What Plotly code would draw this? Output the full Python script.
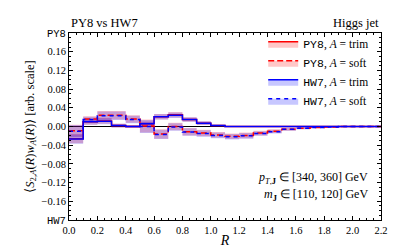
import plotly.graph_objects as go

# ---- data ----
R_edges = [round(0.1 * i, 1) for i in range(23)]  # 0.0 .. 2.2

hw7_trim = [-0.027, 0.010, 0.011, 0.002, 0.000, 0.006, 0.021, 0.024, 0.015, 0.007, 0.002,
            0.000, 0.000, 0.000, 0.000, 0.000, 0.000, 0.000, 0.000, 0.000, 0.000, 0.000]
hw7_soft = [-0.010, 0.015, 0.023, 0.023, 0.015, 0.000, -0.017, -0.001, -0.012, -0.015, -0.019,
            -0.022, -0.020, -0.015, -0.011, -0.006, -0.004, -0.002, -0.001, 0.000, 0.000, 0.000]
py8_trim = [-0.026, 0.010, 0.012, 0.002, 0.000, 0.006, 0.021, 0.025, 0.015, 0.007, 0.002,
            0.000, 0.000, 0.000, 0.000, 0.000, 0.000, 0.000, 0.000, 0.000, 0.000, 0.000]
py8_soft = [-0.009, 0.016, 0.024, 0.024, 0.016, 0.001, -0.016, 0.000, -0.011, -0.014, -0.018,
            -0.021, -0.019, -0.014, -0.010, -0.006, -0.004, -0.002, -0.001, 0.000, 0.000, 0.000]

err_trim = [0.010, 0.006, 0.006, 0.004, 0.003, 0.004, 0.006, 0.006, 0.005, 0.004, 0.002,
            0.001, 0.001, 0.001, 0.001, 0.001, 0.0005, 0.0005, 0.0005, 0.0005, 0.0005, 0.0005]
err_soft = [0.013, 0.006, 0.009, 0.009, 0.008, 0.014, 0.010, 0.008, 0.008, 0.007, 0.006,
            0.006, 0.006, 0.005, 0.004, 0.003, 0.002, 0.001, 0.001, 0.001, 0.0005, 0.0005]

MONO = "font-family:Liberation Mono"
y_tickvals = [-0.2, -0.16, -0.12, -0.08, -0.04, 0.0, 0.04, 0.08, 0.12, 0.16, 0.2]
y_ticktext = ['<span style="%s">HW7</span>' % MONO, '\u22120.16', '\u22120.12',
              '\u22120.08', '\u22120.04', '0.00', '0.04', '0.08', '0.12', '0.16',
              '<span style="%s">PY8</span>' % MONO]

RED = 'rgb(255,0,0)'
BLUE = 'rgb(0,0,255)'
RED_BAND = 'rgba(255,0,0,0.22)'
BLUE_BAND = 'rgba(0,0,255,0.22)'

series = [
    ('<span style="%s">PY8</span>, <i>A</i> = trim' % MONO, py8_trim, err_trim, RED, RED_BAND, 'solid'),
    ('<span style="%s">PY8</span>, <i>A</i> = soft' % MONO, py8_soft, err_soft, RED, RED_BAND, '6px,3px'),
    ('<span style="%s">HW7</span>, <i>A</i> = trim' % MONO, hw7_trim, err_trim, BLUE, BLUE_BAND, 'solid'),
    ('<span style="%s">HW7</span>, <i>A</i> = soft' % MONO, hw7_soft, err_soft, BLUE, BLUE_BAND, '4px,4px'),
]

fig = go.Figure()

def ext(v):
    return list(v) + [v[-1]]

# bands
for name, vals, err, col, band, dash in series:
    lo = [v - e for v, e in zip(vals, err)]
    hi = [v + e for v, e in zip(vals, err)]
    fig.add_trace(go.Scatter(x=R_edges, y=ext(lo), mode='lines', line=dict(width=0, shape='hv'),
                             showlegend=False, hoverinfo='skip'))
    fig.add_trace(go.Scatter(x=R_edges, y=ext(hi), mode='lines', line=dict(width=0, shape='hv'),
                             fill='tonexty', fillcolor=band, showlegend=False, hoverinfo='skip'))

# lines
for name, vals, err, col, band, dash in series:
    fig.add_trace(go.Scatter(x=R_edges, y=ext(vals), mode='lines',
                             line=dict(color=col, width=1.5, dash=dash, shape='hv'),
                             showlegend=False))

# legend entries (patch + line)
for name, vals, err, col, band, dash in series:
    fig.add_trace(go.Scatter(x=[None, None], y=[None, None], mode='lines', name=name,
                             fill='toself', fillcolor=band,
                             line=dict(color=col, width=1.5, dash=dash)))

SERIF = 'Liberation Serif'

fig.update_layout(
    width=407, height=249,
    margin=dict(l=61, r=34, t=25, b=37),
    paper_bgcolor='white', plot_bgcolor='white',
    font=dict(family=SERIF, size=10, color='black'),
    showlegend=True,
    legend=dict(x=0.975, y=1.02, xanchor='right', yanchor='top', traceorder='normal',
                bgcolor='rgba(255,255,255,0)', font=dict(size=11.5, family=SERIF),
                itemwidth=30, tracegroupgap=0),
    xaxis=dict(range=[0, 2.2], tickmode='linear', tick0=0, dtick=0.2, tickformat='.1f',
               ticks='inside', ticklen=4, tickcolor='black', showline=True, linecolor='black',
               linewidth=1, mirror='ticks', showgrid=False, zeroline=False,
               tickfont=dict(family=SERIF, size=10.5),
               minor=dict(ticks='inside', ticklen=2, dtick=0.05, tick0=0, tickcolor='black'),
               title=dict(text='<i>R</i>', font=dict(size=14, family=SERIF), standoff=0)),
    yaxis=dict(range=[-0.2, 0.2], tickmode='array', tickvals=y_tickvals, ticktext=y_ticktext,
               ticks='inside', ticklen=4, tickcolor='black', showline=True, linecolor='black',
               linewidth=1, mirror='ticks', showgrid=False,
               tickfont=dict(family=SERIF, size=10.5),
               zeroline=True, zerolinecolor='black', zerolinewidth=1,
               minor=dict(ticks='inside', ticklen=2, dtick=0.01, tick0=0, tickcolor='black'),
               title=dict(text='\u27e8<i>S</i><sub>2,<i>A</i></sub>(<i>R</i>)<i>w</i><sub><i>A</i></sub>(<i>R</i>)\u27e9 [arb. scale]',
                          font=dict(size=12.5, family=SERIF), standoff=4)),
    annotations=[
        dict(text='PY8 vs HW7', x=0, y=1.0, xref='paper', yref='paper', xanchor='left',
             yanchor='bottom', showarrow=False, font=dict(size=12.5, family=SERIF), yshift=1),
        dict(text='Higgs jet', x=1.0, y=1.0, xref='paper', yref='paper', xanchor='right',
             yanchor='bottom', showarrow=False, font=dict(size=12.5, family=SERIF), yshift=1),
        dict(text='<i>p</i><sub><i>T</i>,<b>J</b></sub> \u2208 [340, 360] GeV', x=0.965, y=0.225,
             xref='paper', yref='paper', xanchor='right', yanchor='middle', showarrow=False,
             font=dict(size=12, family=SERIF)),
        dict(text='<i>m</i><sub><b>J</b></sub> \u2208 [110, 120] GeV', x=0.965, y=0.135,
             xref='paper', yref='paper', xanchor='right', yanchor='middle', showarrow=False,
             font=dict(size=12, family=SERIF)),
    ],
)

fig.write_html('out.html')
